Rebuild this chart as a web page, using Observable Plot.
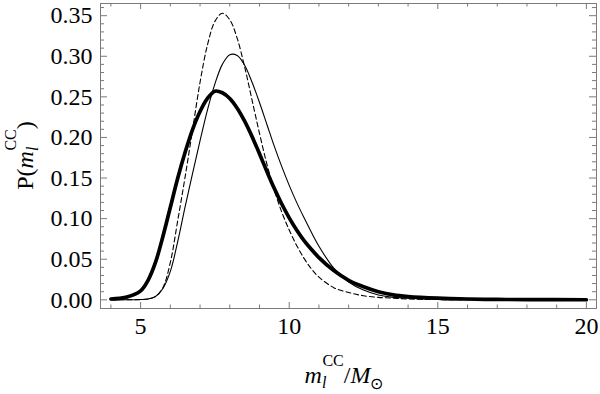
<!DOCTYPE html>
<html>
<head>
<meta charset="utf-8">
<script src="https://cdn.jsdelivr.net/npm/d3@7"></script>
<script src="https://cdn.jsdelivr.net/npm/@observablehq/plot@0.6"></script>
<style>
  html, body { margin: 0; padding: 0; background: white; }
</style>
</head>
<body>
<div id="chart"></div>
<script>
// Shared mass grid (m_l^CC / M_sun)
const mass = [4, 4.5, 5, 5.25, 5.5, 5.75, 6, 6.25, 6.5, 6.75, 7, 7.25, 7.5, 7.75, 8, 8.25, 8.5, 8.75, 9, 9.25, 9.5, 9.75, 10, 10.25, 10.5, 10.75, 11, 11.5, 12, 12.5, 13, 13.5, 14, 15, 16, 17, 18, 20];
// Thick solid curve
const pThick = [0.001, 0.003, 0.011, 0.024, 0.046, 0.078, 0.114, 0.150, 0.182, 0.210, 0.232, 0.248, 0.257, 0.255, 0.248, 0.236, 0.220, 0.201, 0.180, 0.158, 0.137, 0.118, 0.101, 0.086, 0.073, 0.062, 0.052, 0.036, 0.024, 0.016, 0.010, 0.006, 0.004, 0.002, 0.001, 0.0005, 0.0003, 0.0001];
// Thin solid curve
const pThin = [0, 0.0001, 0.0003, 0.001, 0.004, 0.014, 0.035, 0.072, 0.115, 0.156, 0.196, 0.234, 0.266, 0.290, 0.302, 0.301, 0.289, 0.268, 0.243, 0.216, 0.189, 0.164, 0.141, 0.120, 0.101, 0.083, 0.066, 0.039, 0.022, 0.012, 0.006, 0.003, 0.002, 0.0005, 0.0002, 0.0001, 0, 0];
// Dashed curve
const pDashed = [0, 0.0001, 0.0003, 0.001, 0.004, 0.015, 0.046, 0.098, 0.152, 0.210, 0.268, 0.314, 0.343, 0.353, 0.345, 0.322, 0.287, 0.246, 0.205, 0.167, 0.135, 0.108, 0.086, 0.067, 0.051, 0.038, 0.028, 0.015, 0.009, 0.005, 0.003, 0.002, 0.001, 0.0003, 0.0001, 0, 0, 0];

// Ticks
const xMajor = [5, 10, 15, 20];
const xMinor = [4, 6, 7, 8, 9, 11, 12, 13, 14, 16, 17, 18, 19];
const yMajor = [0, 0.05, 0.10, 0.15, 0.20, 0.25, 0.30, 0.35];
const yMinor = [0.01, 0.02, 0.03, 0.04, 0.06, 0.07, 0.08, 0.09, 0.11, 0.12, 0.13, 0.14, 0.16, 0.17, 0.18, 0.19, 0.21, 0.22, 0.23, 0.24, 0.26, 0.27, 0.28, 0.29, 0.31, 0.32, 0.33, 0.34, 0.36];

const W = 600, H = 394;
const mL = 100, mR = 4, mT = 3, mB = 86;
const pw = W - mL - mR, ph = H - mT - mB;
const frameColor = "#7a7a7a";
const font = "Liberation Serif";

const toRows = ys => mass.map((m, i) => ({m, p: ys[i]}));

const chart = Plot.plot({
  width: W, height: H,
  marginLeft: mL, marginRight: mR, marginTop: mT, marginBottom: mB,
  x: {domain: [3.65, 20.34], axis: null},
  y: {domain: [-0.0107, 0.365], axis: null},
  style: {fontFamily: font, background: "white", color: "black"},
  marks: [
    Plot.frame({stroke: frameColor, strokeWidth: 1}),
    // bottom & top ticks
    Plot.tickX(xMajor, {x: d => d, insetTop: ph - 6, stroke: frameColor}),
    Plot.tickX(xMinor, {x: d => d, insetTop: ph - 3.5, stroke: frameColor}),
    Plot.tickX(xMajor, {x: d => d, insetBottom: ph - 6, stroke: frameColor}),
    Plot.tickX(xMinor, {x: d => d, insetBottom: ph - 3.5, stroke: frameColor}),
    // left & right ticks
    Plot.tickY(yMajor, {y: d => d, insetRight: pw - 7, stroke: frameColor}),
    Plot.tickY(yMinor, {y: d => d, insetRight: pw - 4, stroke: frameColor}),
    Plot.tickY(yMajor, {y: d => d, insetLeft: pw - 7, stroke: frameColor}),
    Plot.tickY(yMinor, {y: d => d, insetLeft: pw - 4, stroke: frameColor}),
    // tick labels
    Plot.text(xMajor, {x: d => d, text: d => String(d), frameAnchor: "bottom", lineAnchor: "top", dy: 8, fontSize: 24, fontFamily: font, fill: "black"}),
    Plot.text(yMajor, {y: d => d, text: d => d3.format(".2f")(d), frameAnchor: "left", textAnchor: "end", dx: -8, fontSize: 24, fontFamily: font, fill: "black"}),
    Plot.line(toRows(pDashed), {x: "m", y: "p", stroke: "black", strokeWidth: 1.1, strokeDasharray: "5,3", curve: "catmull-rom"}),
    Plot.line(toRows(pThin), {x: "m", y: "p", stroke: "black", strokeWidth: 1.1, curve: "catmull-rom"}),
    Plot.line(toRows(pThick), {x: "m", y: "p", stroke: "black", strokeWidth: 3.7, curve: "catmull-rom"})
  ]
});

const svg = d3.select(chart);
// x-axis title: m_l^CC / M_⊙
const xt = svg.append("text")
  .attr("x", mL + pw / 2 - 4).attr("y", 383)
  .attr("text-anchor", "middle")
  .attr("font-family", font).attr("font-size", 24).attr("fill", "black");
xt.append("tspan").attr("font-style", "italic").text("m");
xt.append("tspan").attr("font-style", "italic").attr("font-size", 16).attr("dy", 5).text("l");
xt.append("tspan").attr("font-size", 16).attr("dx", -4).attr("dy", -22).text("CC");
xt.append("tspan").attr("dy", 17).text("/");
xt.append("tspan").attr("font-style", "italic").text("M");
xt.append("tspan").attr("font-size", 16).attr("dy", 6).text("\u2299");

// y-axis title: P(m_l^CC)
const yt = svg.append("text")
  .attr("transform", `translate(33,${mT + ph / 2}) rotate(-90)`)
  .attr("text-anchor", "middle")
  .attr("font-family", font).attr("font-size", 24).attr("fill", "black");
yt.append("tspan").text("P(");
yt.append("tspan").attr("font-style", "italic").text("m");
yt.append("tspan").attr("font-style", "italic").attr("font-size", 16).attr("dy", 5).text("l");
yt.append("tspan").attr("font-size", 16).attr("dx", -4).attr("dy", -22).text("CC");
yt.append("tspan").attr("dy", 17).text(")");

document.getElementById("chart").appendChild(chart);
</script>
</body>
</html>
